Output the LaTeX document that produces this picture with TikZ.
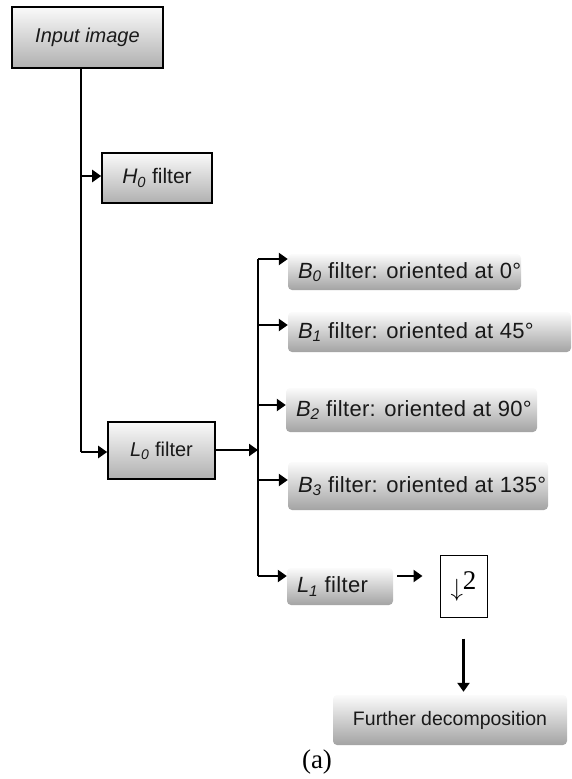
\documentclass[tikz,border=0pt]{standalone}
\usepackage{fontspec}
\setmainfont{Liberation Sans}
\newfontfamily\seriffont{Liberation Serif}
\newfontfamily\spacedfont[LetterSpace=1.5]{Liberation Sans}
\usetikzlibrary{arrows.meta}
\begin{document}
\begin{tikzpicture}[x=1pt,y=-1pt,
  framed/.style={draw=black, line width=1.6pt, top color=gray!4, bottom color=gray!62, inner sep=0pt, text=black!90},
  soft/.style={draw=none, rounded corners=4pt, top color=gray!3, middle color=gray!14, bottom color=gray!72, inner sep=0pt},
  lbl/.style={anchor=west, inner sep=0pt, text=black!90, font=\spacedfont\fontsize{22}{24}\selectfont},
  conn/.style={line width=2.6pt, -{Triangle[length=9pt,width=12pt]}},
  spine/.style={line width=1.4pt}]
\useasboundingbox (0,0) rectangle (571,779);

% left column
\node[framed, minimum width=151pt, minimum height=61pt, font=\fontsize{20}{24}\selectfont\itshape] (inp) at (87.5,37.5) {Input image\hspace{16pt}};
\node[framed, minimum width=110pt, minimum height=50pt, font=\fontsize{21}{24}\selectfont] (h0) at (157,178) {\textit{H\textsubscript{0}} filter\hspace{16pt}};
\node[framed, minimum width=107pt, minimum height=57pt, font=\fontsize{20}{24}\selectfont] (l0) at (161.5,450.5) {\textit{L\textsubscript{0}} filter\hspace{16pt}};

\coordinate (sA) at (81,176);
\coordinate (sB) at (81,452);
\draw[spine] (inp.south -| sA) -- (sB);
\draw[conn] (sA) -- (sA -| h0.west);
\draw[conn] (sB) -- (sB -| l0.west);

% right column boxes
\node[soft, minimum width=233pt, minimum height=36pt] (b0) at (404.5,272) {};
\node[lbl] (b0t) at ([xshift=10pt]b0.west) {\textit{B\textsubscript{0}} filter: oriented at 0°};
\node[soft, minimum width=283pt, minimum height=40pt] (b1) at (429.5,332) {};
\node[lbl] (b1t) at ([xshift=10pt]b1.west) {\textit{B\textsubscript{1}} filter: oriented at 45°};
\node[soft, minimum width=251pt, minimum height=44pt] (b2) at (411.5,410) {};
\node[lbl] (b2t) at ([xshift=10pt]b2.west) {\textit{B\textsubscript{2}} filter: oriented at 90°};
\node[soft, minimum width=260pt, minimum height=48pt] (b3) at (418,486) {};
\node[lbl] (b3t) at ([xshift=10pt]b3.west) {\textit{B\textsubscript{3}} filter: oriented at 135°};
\node[soft, minimum width=106pt, minimum height=37pt] (l1) at (340,586.5) {};
\node[lbl] (l1t) at ([xshift=10pt]l1.west) {\textit{L\textsubscript{1}} filter};

\node[draw=black, line width=1pt, fill=white, minimum width=47pt, minimum height=62pt, inner sep=0pt] (ds) at (463.5,586)
  {\seriffont\fontsize{27}{28}\selectfont\raisebox{-7pt}{$\downarrow$}2};

\node[soft, minimum width=234pt, minimum height=50pt, font=\fontsize{19.5}{22}\selectfont, text=black!90] (fd) at (450,720) {Further decomposition};

\node[inner sep=0pt, font=\seriffont\fontsize{27}{28}\selectfont] (cap) at (317,762) {(a)};

% right spine
\coordinate (r0) at (258,259);
\coordinate (r1) at (258,325);
\coordinate (r2) at (258,405);
\coordinate (rL) at (258,450);
\coordinate (r3) at (258,480);
\coordinate (r4) at (258,576);
\draw[spine] (r0) -- (r4);
\draw[conn] (r0) -- (r0 -| b0.west);
\draw[conn] (r1) -- (r1 -| b1.west);
\draw[conn] (r2) -- (r2 -| b2.west);
\draw[conn] (r3) -- (r3 -| b3.west);
\draw[conn] (r4) -- (r4 -| l1.west);
\draw[conn] (l0.east |- rL) -- (rL);

\draw[conn, shorten <=4pt, shorten >=17pt] (l1.east |- r4) -- (ds.west |- r4);
\draw[conn, shorten <=21pt, shorten >=3pt] (ds.south) -- (ds.south |- fd.north);
\end{tikzpicture}
\end{document}
